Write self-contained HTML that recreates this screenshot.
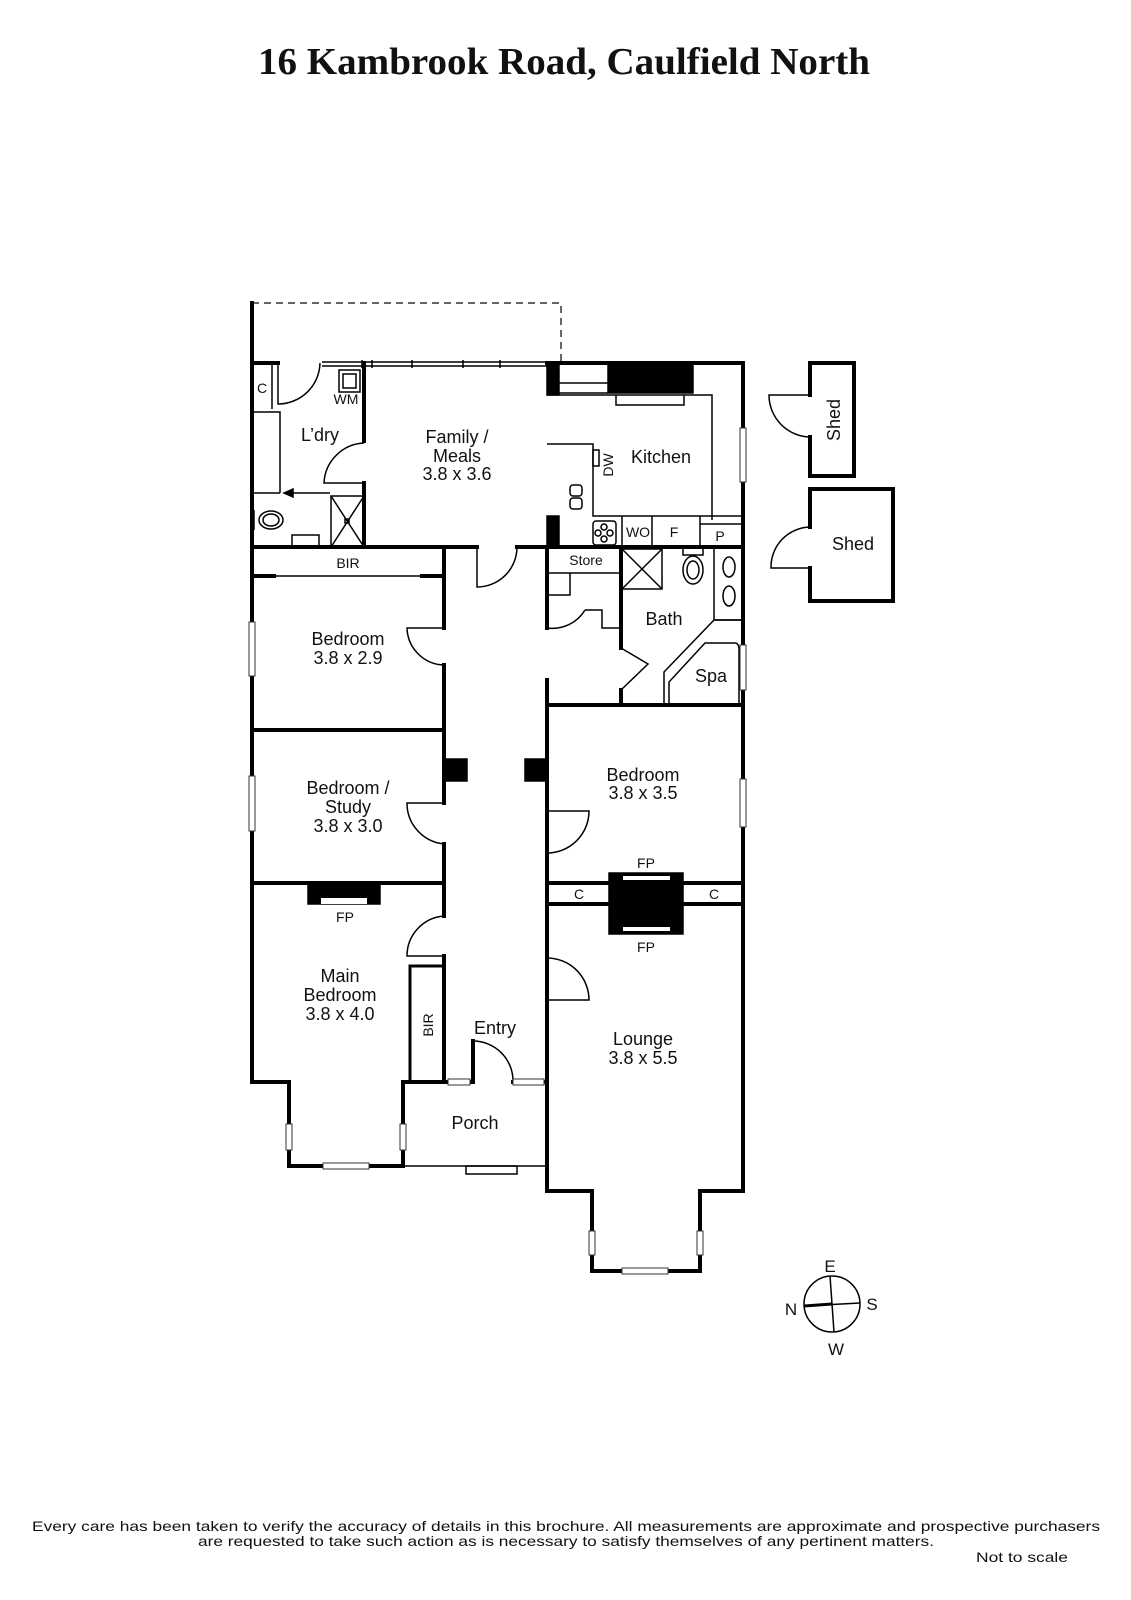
<!DOCTYPE html>
<html><head><meta charset="utf-8"><style>
html,body{margin:0;padding:0;background:#fff;}
svg{display:block;}
text{font-family:"Liberation Sans",sans-serif;fill:#111;}
</style></head><body>
<svg width="1131" height="1600" viewBox="0 0 1131 1600" xmlns="http://www.w3.org/2000/svg">
<text x="564" y="74" text-anchor="middle" textLength="612" lengthAdjust="spacingAndGlyphs" style="font-family:'Liberation Serif',serif;font-weight:bold;font-size:38px">16 Kambrook Road, Caulfield North</text>

<path d="M252 303 H561 V363" fill="none" stroke="#333" stroke-width="1.5" stroke-dasharray="7,5"/>

<g fill="none" stroke="#000" stroke-width="4" stroke-linecap="square">
<path d="M252 303 V1082 H289 V1166 H403 V1082"/>
<path d="M252 363 H278"/>
<path d="M547 363 H743 V1191 H700 V1271 H592 V1191 H547 V705"/>
<path d="M403 1082 V1166"/>
<path d="M403 1082 H448 M470 1082 H473 V1041 M513 1082 H547 V1191"/>
<path d="M252 547 H477 M517 547 H743"/>
<path d="M364 363 V441 M364 483 V547"/>
<path d="M444 547 V628 M444 665 V803 M444 844 V916 M444 956 V1082"/>
<path d="M547 547 V628 M547 680 V811 M547 853 V958 M547 1000 V1082"/>
<path d="M252 730 H444 M252 883 H444"/>
<path d="M547 705 H743"/>
<path d="M547 883 H609 M683 883 H743 M547 904 H609 M683 904 H743"/>
<path d="M621 547 V648 M621 690 V705"/>
<path d="M810 395 V363 H854 V476 H810 V437"/>
<path d="M810 527 V489 H893 V601 H810 V568"/>
</g>

<g fill="none" stroke="#000" stroke-width="1.5">
<path d="M322 362 H547 M322 366 H547"/>
<path d="M362 360 V368 M372 360 V368 M412 360 V368 M463 360 V368 M500 360 V368"/>
<path d="M272 363 V409 M252 412 H280 V493 M252 493 H280"/>
<path d="M286 493 H330" /><path d="M284 493 l9 -4 v8 z" fill="#000"/>
<rect x="331" y="496" width="33" height="51"/><path d="M331 496 L364 547 M364 496 L331 547"/>
<rect x="345" y="519" width="4" height="4"/>
<rect x="339" y="370" width="21" height="22"/><rect x="343" y="374" width="13" height="14"/>
<ellipse cx="271" cy="520" rx="12" ry="9"/><ellipse cx="271" cy="520" rx="8" ry="6"/>
<path d="M254 510 V530"/>
<rect x="292" y="535" width="27" height="12"/>
<path d="M278 363 V404 A42 42 0 0 0 320 363"/>
<path d="M364 443 A42 42 0 0 0 324 483 H364"/>
<rect x="547" y="365" width="12" height="30" fill="#000"/>
<rect x="608" y="365" width="85" height="28" fill="#000"/>
<path d="M559 383 H608 M559 393 H608 M547 395 H712 V520 M616 395 V405 H684 V395"/>
<path d="M547 444 H593 V516 H743 M700 516 V547 M700 524 H743"/>
<rect x="593" y="450" width="6" height="16"/>
<rect x="570" y="485" width="12" height="11" rx="3"/><rect x="570" y="498" width="12" height="11" rx="3"/>
<rect x="547" y="516" width="12" height="31" fill="#000"/>
<rect x="593" y="521" width="23" height="24" rx="3"/>
<circle cx="604" cy="527" r="3"/><circle cx="604" cy="539" r="3"/><circle cx="598" cy="533" r="3"/><circle cx="610" cy="533" r="3"/>
<path d="M622 516 V547 M652 516 V547"/>
<path d="M547 573 H621 M547 595 H570 V573"/>
<path d="M621 610 V628 M585 610 H602 V628 H621"/>
<path d="M547 628 A38 38 0 0 0 585 610"/>
<rect x="622" y="549" width="40" height="40"/><path d="M622 549 L662 589 M662 549 L622 589"/>
<rect x="683" y="547" width="20" height="8"/>
<ellipse cx="693" cy="570" rx="10" ry="14"/><ellipse cx="693" cy="570" rx="6" ry="9"/>
<path d="M714 547 V620 H743"/>
<ellipse cx="729" cy="567" rx="6" ry="10"/><ellipse cx="729" cy="596" rx="6" ry="10"/>
<path d="M743 620 H714 L664 672 V705"/>
<path d="M669 705 V682 L705 643 H735 Q739 643 739 650 V705"/>
<path d="M621 648 L648 664 L621 690"/>
<path d="M252 576 H444"/><path d="M254 576 H276 M420 576 H442" stroke-width="4"/>
<path d="M444 628 H407 A38 38 0 0 0 444 665"/>
<path d="M444 803 H407 A41 41 0 0 0 444 844"/>
<path d="M444 956 H407 A40 40 0 0 1 444 916"/>
<path d="M547 811 H589 A42 42 0 0 1 547 853"/>
<path d="M547 958 A42 42 0 0 1 589 1000 H547"/>
<path d="M477 547 V587 A40 40 0 0 0 517 547"/>
<rect x="308" y="885" width="72" height="19" fill="#000"/><rect x="321" y="898" width="46" height="6" fill="#fff" stroke="none"/>
<rect x="609" y="873" width="74" height="61" fill="#000"/>
<rect x="623" y="876" width="47" height="4" fill="#fff" stroke="none"/><rect x="623" y="927" width="47" height="4" fill="#fff" stroke="none"/>
<rect x="444" y="759" width="23" height="22" fill="#000"/><rect x="525" y="759" width="22" height="22" fill="#000"/>
<path d="M410 1082 V966 H444" stroke-width="3"/>
<path d="M473 1041 A40 40 0 0 1 513 1082"/>
<path d="M403 1166 H547"/><rect x="466" y="1166" width="51" height="8"/>
<g fill="#fff" stroke="#333" stroke-width="1">
<rect x="249" y="622" width="6" height="54"/><rect x="249" y="776" width="6" height="55"/>
<rect x="740" y="428" width="6" height="54"/><rect x="740" y="645" width="6" height="45"/><rect x="740" y="779" width="6" height="48"/>
<rect x="286" y="1124" width="6" height="26"/><rect x="400" y="1124" width="6" height="26"/>
<rect x="323" y="1163" width="46" height="6"/>
<rect x="589" y="1231" width="6" height="24"/><rect x="697" y="1231" width="6" height="24"/>
<rect x="622" y="1268" width="46" height="6"/>
<rect x="448" y="1079" width="22" height="6"/><rect x="513" y="1079" width="31" height="6"/>
</g>
<path d="M810 395 H769 A42 42 0 0 0 810 437"/>
<path d="M810 527 A40 40 0 0 0 771 568 H810"/>
<circle cx="832" cy="1304" r="28"/>
<path d="M830 1276 L834 1332 M804 1306 L860 1303"/>
<path d="M804 1306 L832 1304" stroke-width="3"/>
</g>

<g font-size="18" text-anchor="middle">
<text x="457" y="443">Family /</text><text x="457" y="462">Meals</text><text x="457" y="480">3.8 x 3.6</text>
<text x="320" y="441">L’dry</text>
<text x="661" y="463">Kitchen</text>
<text x="348" y="645">Bedroom</text><text x="348" y="664">3.8 x 2.9</text>
<text x="348" y="794">Bedroom /</text><text x="348" y="813">Study</text><text x="348" y="832">3.8 x 3.0</text>
<text x="340" y="982">Main</text><text x="340" y="1001">Bedroom</text><text x="340" y="1020">3.8 x 4.0</text>
<text x="643" y="781">Bedroom</text><text x="643" y="799">3.8 x 3.5</text>
<text x="643" y="1045">Lounge</text><text x="643" y="1064">3.8 x 5.5</text>
<text x="495" y="1034">Entry</text>
<text x="475" y="1129">Porch</text>
<text x="664" y="625">Bath</text>
<text x="711" y="682">Spa</text>
<text x="853" y="550">Shed</text>
<text transform="translate(840 420) rotate(-90)">Shed</text>
</g>
<g font-size="14" text-anchor="middle">
<text x="348" y="568">BIR</text>
<text x="586" y="565">Store</text>
<text x="346" y="404">WM</text>
<text x="262" y="393">C</text>
<text x="638" y="537">WO</text>
<text x="674" y="537">F</text>
<text x="720" y="541">P</text>
<text x="345" y="922">FP</text>
<text x="646" y="868">FP</text>
<text x="646" y="952">FP</text>
<text x="579" y="899">C</text>
<text x="714" y="899">C</text>
<text transform="translate(433 1025) rotate(-90)">BIR</text>
<text transform="translate(613 465) rotate(-90)">DW</text>
</g>
<g font-size="17" text-anchor="middle">
<text x="830" y="1272">E</text><text x="872" y="1310">S</text><text x="791" y="1315">N</text><text x="836" y="1355">W</text>
</g>
<g font-size="14">
<text x="32" y="1531" textLength="1068" lengthAdjust="spacingAndGlyphs">Every care has been taken to verify the accuracy of details in this brochure.  All measurements are approximate and prospective purchasers</text>
<text x="198" y="1546" textLength="736" lengthAdjust="spacingAndGlyphs">are requested to take such action as is necessary to satisfy themselves of any pertinent matters.</text>
<text x="976" y="1562" textLength="92" lengthAdjust="spacingAndGlyphs">Not to scale</text>
</g>
</svg>
</body></html>
